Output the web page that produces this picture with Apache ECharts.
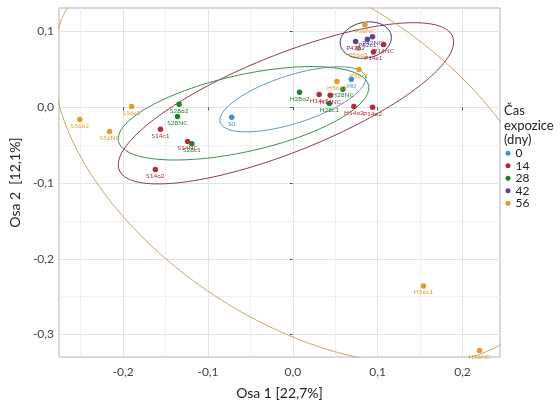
<!DOCTYPE html>
<html><head><meta charset="utf-8">
<script src="https://cdn.jsdelivr.net/npm/echarts@6/dist/echarts.min.js"></script>
<style>html,body{margin:0;padding:0;background:#fff}#c{width:560px;height:406px}</style>
</head><body><div id="c"></div>
<script>
// axis ticks
const xTicks = [-0.2, -0.1, 0, 0.1, 0.2];
const xMinor = [-0.25, -0.15, -0.05, 0.05, 0.15];
const yTicks = [-0.3, -0.2, -0.1, 0, 0.1];
const yMinor = [-0.25, -0.15, -0.05, 0.05];
const xRange = [-0.2756, 0.2442];
const yRange = [-0.3296, 0.1311];

// groups (Čas expozice, dny)
const groups = ['0', '14', '28', '42', '56'];

const names_0 = ['S0', 'H0'];
const x_0 = [-0.072, 0.069];
const y_0 = [-0.013, 0.037];

const names_14 = ['S14c1', 'S14NC', 'S14o2', 'H14c1', 'H14NC', 'H14o2', 'P14o2', 'P14c1', 'P14NC'];
const x_14 = [-0.156, -0.124, -0.162, 0.031, 0.044, 0.072, 0.094, 0.095, 0.107];
const y_14 = [-0.029, -0.045, -0.082, 0.017, 0.016, 0.001, 0.000, 0.073, 0.083];

const names_28 = ['S28o2', 'S28NC', 'S28c1', 'H28o2', 'H28NC', 'H28c1'];
const x_28 = [-0.134, -0.136, -0.119, 0.008, 0.059, 0.043];
const y_28 = [0.004, -0.012, -0.048, 0.020, 0.024, 0.005];

const names_42 = ['P42o2', 'P42c1', 'P42NC'];
const x_42 = [0.074, 0.088, 0.094];
const y_42 = [0.087, 0.090, 0.093];

const names_56 = ['P56NC', 'P56o2', 'P56c1', 'H56o2', 'S56c1', 'S56o2', 'S56NC', 'H56c1', 'H56NC'];
const x_56 = [0.085, 0.077, 0.078, 0.052, -0.190, -0.251, -0.216, 0.154, 0.220];
const y_56 = [0.109, 0.078, 0.050, 0.034, 0.001, -0.016, -0.032, -0.236, -0.321];

// confidence ellipses per group: centre + two conjugate semi-axis vectors (data units)
const ellCx = [0.000, -0.0081, -0.0581, 0.086, 0.0116];
const ellCy = [0.0106, 0.0053, -0.0079, 0.0887, -0.0669];
const ellUx = [0.0860, 0.1977, 0.1477, 0.0302, 0.2750];
const ellUy = [0.0274, 0.0811, 0.0336, 0.0034, -0.2027];
const ellVx = [0, 0, 0, 0, -0.1039];
const ellVy = [0.0331, 0.0689, 0.0517, 0.0238, -0.1816];

const pointColors = ['#3d8fd1', '#b8283a', '#1f7f2a', '#5b3f99', '#e39a30'];
const ellColors = ['#5b97b8', '#8c3a55', '#3f8b4e', '#453a5e', '#c9a66b'];

const groupNames = [names_0, names_14, names_28, names_42, names_56];
const groupX = [x_0, x_14, x_28, x_42, x_56];
const groupY = [y_0, y_14, y_28, y_42, y_56];

const fmt = v => (Math.abs(v) < 1e-9 ? 0 : v).toFixed(1).replace('.', ',');
const FONT = 'Lato, "Open Sans", sans-serif';

const series = [];
groups.forEach((g, i) => {
  const pts = [];
  const N = 180;
  for (let k = 0; k <= N; k++) {
    const t = 2 * Math.PI * k / N;
    pts.push([ellCx[i] + ellUx[i] * Math.cos(t) + ellVx[i] * Math.sin(t),
              ellCy[i] + ellUy[i] * Math.cos(t) + ellVy[i] * Math.sin(t)]);
  }
  series.push({
    type: 'line', name: 'ell' + g, data: pts, showSymbol: false, silent: true,
    clip: true, z: 2, lineStyle: { color: ellColors[i], width: 1 }, animation: false
  });
});
groups.forEach((g, i) => {
  series.push({
    type: 'scatter', name: g, symbolSize: 5.5, z: 3, animation: false,
    itemStyle: { color: pointColors[i], opacity: 1 },
    data: groupX[i].map((v, j) => [v, groupY[i][j], groupNames[i][j]]),
    label: {
      show: true, position: 'bottom', distance: 0,
      formatter: p => p.data[2], fontSize: 6.5, fontFamily: FONT,
      color: pointColors[i]
    }
  });
});

const chart = echarts.init(document.getElementById('c'), null, { renderer: 'canvas' });
chart.setOption({
  backgroundColor: '#fff',
  animation: false,
  grid: { left: 53, top: 8, width: 447, height: 349, show: true, borderColor: '#b3b3b3', borderWidth: 1, backgroundColor: 'transparent' },
  title: {
    text: 'Čas\nexpozice\n(dny)', left: 504, top: 104, padding: 0,
    textStyle: { fontSize: 13, lineHeight: 14.5, fontWeight: 'normal', color: '#222', fontFamily: FONT }
  },
  legend: {
    data: groups, orient: 'vertical', left: 505.5, top: 147, padding: 0,
    itemWidth: 5, itemHeight: 5, itemGap: 0, icon: 'circle',
    textStyle: { fontSize: 12, lineHeight: 12.5, color: '#222', fontFamily: FONT }
  },
  xAxis: [{
    type: 'value', min: xRange[0], max: xRange[1], position: 'bottom',
    name: 'Osa 1 [22,7%]', nameLocation: 'middle', nameGap: 29,
    nameTextStyle: { fontSize: 14, color: '#222', fontFamily: FONT },
    axisLine: { show: false },
    axisTick: { show: true, length: 3, customValues: xTicks, lineStyle: { color: '#555' } },
    axisLabel: { customValues: xTicks, formatter: fmt, fontSize: 12, color: '#444', margin: 9, fontFamily: FONT },
    splitLine: { show: true, lineStyle: { color: '#e4e4e4', width: 1 } }
  }, {
    type: 'value', min: xRange[0], max: xRange[1], position: 'top',
    axisLine: { show: false }, axisLabel: { show: false },
    axisTick: { show: false, customValues: xMinor },
    splitLine: { show: true, lineStyle: { color: '#f0f0f0', width: 1 } }
  }],
  yAxis: [{
    type: 'value', min: yRange[0], max: yRange[1], position: 'left',
    name: 'Osa 2  [12,1%]', nameLocation: 'middle', nameGap: 24,
    nameTextStyle: { fontSize: 14, color: '#222', fontFamily: FONT },
    axisLine: { show: false },
    axisTick: { show: true, length: 3, customValues: yTicks, lineStyle: { color: '#555' } },
    axisLabel: { customValues: yTicks, formatter: fmt, fontSize: 12, color: '#444', margin: 5, fontFamily: FONT },
    splitLine: { show: true, lineStyle: { color: '#e4e4e4', width: 1 } }
  }, {
    type: 'value', min: yRange[0], max: yRange[1], position: 'right',
    axisLine: { show: false }, axisLabel: { show: false },
    axisTick: { show: false, customValues: yMinor },
    splitLine: { show: true, lineStyle: { color: '#f0f0f0', width: 1 } }
  }],
  series: series
});
</script></body></html>
